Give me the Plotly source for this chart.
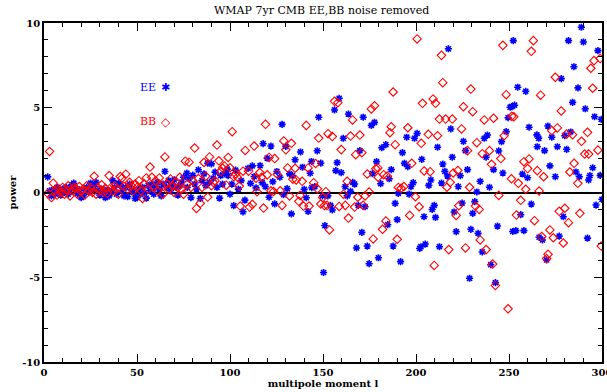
import plotly.graph_objects as go

# ---------------- data ----------------
ee_l = [2, 3, 4, 5, 6, 7, 8, 9, 10, 11, 12, 13, 14, 15, 16, 17, 18, 19, 20, 21, 22, 23, 24, 25, 26,
        27, 28, 29, 30, 31, 32, 33, 34, 35, 36, 37, 38, 39, 40, 41, 42, 43, 44, 45, 46, 47, 48, 49, 50,
        51, 52, 53, 54, 55, 56, 57, 58, 59, 60, 61, 62, 63, 64, 65, 66, 67, 68, 69, 70, 71, 72, 73, 74,
        75, 76.8, 77, 78, 79, 80, 81, 82, 83, 84, 85, 86, 87, 88, 89, 90, 91, 92, 93, 94.4, 95, 96, 97,
        98.5, 99, 100, 101, 102, 103, 104.5, 106, 107, 108, 109.7, 111, 112, 113, 114, 116.2, 117.3,
        117.8, 119, 120, 121, 122, 123, 124, 125.2, 126.8, 128, 128.8, 130, 130.7, 132, 133, 133.5,
        135, 137.9, 139, 139.9, 141, 142, 143.1, 143.8, 144, 145.6, 146.9, 147.7, 148.8, 149.7, 150.3,
        151, 152.6, 154, 155, 156.2, 156.9, 157.6, 158.7, 159.8, 160.9, 161.9, 163, 163.7, 164.8, 166,
        167, 168, 169, 169.8, 170.9, 171.6, 172.6, 173.8, 174.8, 176, 176.6, 177.7, 178.8, 179.8, 181,
        181.6, 183.8, 184.8, 185.6, 186.7, 187.7, 188.8, 189.9, 190.5, 191.7, 192.7, 193.8, 195, 195.6,
        196.3, 197.3, 198.5, 199.2, 200.6, 202, 202.6, 203.1, 204.3, 205, 206.9, 208, 208.7, 209.8,
        210.5, 211.6, 212.6, 213.7, 214.4, 215.5, 216.9, 217.4, 218.7, 219.5, 220.5, 221.6, 222.7,
        223.8, 224.8, 225.5, 226.6, 227.7, 228.8, 229.5, 230.5, 231.6, 232.7, 233.4, 234.5, 235.6,
        236.7, 237.7, 238.4, 239.5, 240.2, 241.7, 242.7, 243.8, 244.5, 246, 246.7, 248.5, 249.5, 250.6,
        251.5, 252, 252.3, 253, 253.7, 254.7, 256.3, 257.2, 258, 259, 260, 260.8, 262, 265, 265.2, 266,
        266.2, 268, 269.1, 270.2, 270.9, 272, 273, 274.9, 276, 277, 278.1, 279.2, 280, 281, 282, 283.2,
        284.2, 284.9, 286, 287.1, 287.8, 288.9, 290, 291, 292.2, 292.8, 293.5, 295, 296, 296.8, 297.8,
        299, 299.6, 300]
ee_p = [0.92, 0.1, -0.2, 0.15, -0.1, 0.3, 0.05, -0.15, 0.2, 0.0, 0.3, -0.1, 0.1, 0.45, 0.55, 0.2,
        -0.05, 0.15, -0.3, -0.2, 0.1, 0.3, 0.0, 0.55, 0.2, 0.35, 0.6, 0.1, -0.15, 0.2, 0.0, -0.3, 0.15,
        -0.2, 0.05, 0.7, 0.3, -0.1, 0.55, 0.45, 0.1, -0.2, 0.3, -0.25, 0.5, 0.15, 0.0, -0.35, -0.3,
        0.2, -0.1, 0.3, 0.0, -0.33, 0.4, 0.1, 0.5, -0.1, 0.3, 0.6, 0.2, -0.2, 0.5, 1.24, 0.3, 0.7, 0.1,
        0.5, 0.74, 0.3, -0.15, 0.4, 0.6, 0.9, 1.14, 0.3, 0.8, -0.3, 1.02, 0.5, 0.2, 1.34, -0.35, 0.7,
        1.1, 0.4, 1.73, 0.6, 1.69, 0.84, 1.2, 0.3, -0.33, 1.0, 0.5, 1.1, 1.38, 1.0, -0.1, 0.5, -0.77,
        1.32, 0.2, 0.7, -1.14, -0.45, 1.42, 0.54, 1.57, 0.94, 0.27, 1.59, 0.58, 2.88, 0.35, 2.03, -0.28,
        2.74, 0.64, -0.67, 1.24, 0.9, 4.02, -0.13, 2.72, 0.23, 1.1, -1.26, 1.0, 1.93, 2.39, 1.49, 0.19,
        -0.31, -1.12, 1.14, 1.83, 0.29, 0.35, 2.46, 4.44, 1.73, -0.2, -4.72, -1.95, -0.2, -0.76, -1.03,
        4.87, 1.29, 1.76, 5.56, 1.17, 3.2, 0.35, -0.2, 4.63, 0.07, 0.6, 0.5, -3.27, -0.76, 2.47, -2.35,
        4.44, -0.84, -3.16, -4.2, 3.96, 1.11, 4.14, 1.82, -3.85, 0.52, 2.64, 2.82, -1.9, 0.81, 1.35,
        -3.16, -0.64, -1.6, -0.05, -4.08, 2.35, 1.72, 3.26, 1.52, -0.1, 0.35, 0.58, 3.2, 3.49, -3.3,
        -3.2, 1.96, -1.43, -3.04, 0.42, 0.74, -1.0, -0.76, -1.47, 2.67, -3.2, 0.56, 1.68, 1.25, 0.97,
        8.48, 3.75, 2.08, -1.15, -2.31, 0.35, 0.99, -0.62, 3.02, 2.47, 1.35, -5.06, -2.17, -1.23, -0.54,
        0.03, -2.41, 0.66, -3.51, 3.2, 2.08, 3.39, 0.31, -4.26, 1.35, -5.32, -1.98, 2.45, 3.0, 1.15,
        3.59, 4.41, 5.03, 5.07, -2.3, 8.96, 5.15, -2.25, 6.21, -1.31, 1.09, -2.25, 5.97, 0.87, 3.85,
        -0.68, 3.4, 2.7, 3.2, -2.64, -2.8, 2.47, -3.98, 3.92, 1.57, 3.26, 0.93, 2.7, -2.57, 6.72, -1.43,
        3.35, 2.55, 8.96, 3.57, 5.32, 7.42, 1.21, 6.17, 0.93, 9.75, 8.88, 4.94, -2.69, 0.74, 1.0, 1.46,
        4.47, -0.74, 8.37, 1.01, 4.32, -0.4]

bb_l = [2, 3, 4, 5, 6, 7, 8, 9, 10, 11, 12, 13, 14, 15, 16, 17, 18, 19, 20, 21, 22, 23, 24, 25, 26,
        27, 28, 29, 30, 31, 32, 33, 34, 35, 36, 37, 38, 39, 40, 41, 42, 43, 44, 45, 46, 47, 48, 49, 50,
        51, 52, 53, 54, 55, 56, 57, 58, 59, 60, 61, 62, 63, 64, 65, 66, 67, 68, 69, 70, 71, 72, 73, 74,
        75, 76, 77, 78, 79, 80, 81, 82, 83, 84, 85, 86, 87, 88, 89, 90, 91, 92, 93, 94, 95, 96, 97, 98,
        99, 100, 101.2, 102, 103, 104, 105, 105.5, 107, 108.2, 110, 110.5, 112, 113, 114, 114.5, 116,
        117, 118, 119.1, 120, 121, 122, 123.4, 124, 125.4, 127, 128, 128.9, 130, 131, 132, 133, 133.8,
        135, 135.6, 137, 137.7, 138.8, 139.5, 141, 142, 142.5, 145, 146, 147, 147.7, 148.8, 149.8,
        150.8, 151.5, 152.2, 152.7, 153.5, 155, 156.2, 158, 158.7, 159.8, 161, 162, 163, 163.7, 164.8,
        165.9, 167, 167.6, 168.7, 169.8, 170.9, 171.6, 172.6, 173.8, 174.8, 176, 177, 177.7, 178.4,
        179.5, 179.6, 182, 182.6, 183.8, 184.5, 186, 186.7, 187.7, 188.8, 189.9, 190.5, 192, 193.5,
        195.6, 196.6, 197.7, 199.7, 200.6, 201.7, 202.8, 203.5, 204.4, 206.6, 207.6, 209.2, 209.8,
        210.5, 211.6, 212.6, 213.7, 214.4, 215.9, 216.6, 217.6, 218.4, 219.5, 220, 221.6, 222.5, 223,
        224.5, 225.5, 226.6, 227.7, 228.8, 229.5, 230.5, 232, 232.7, 234, 234.5, 235.6, 236.7, 237.7,
        239.5, 240.6, 241.2, 241.7, 242.7, 244.5, 245.6, 246.7, 247.4, 248.5, 249.5, 251.3, 251.5,
        252.6, 254, 255, 256.3, 258, 259, 260, 260.8, 262, 263.1, 263.7, 265.2, 266.2, 267, 267.6,
        268.6, 270.2, 271, 272, 273, 273.8, 274.9, 276, 277, 278.1, 279.2, 280, 281, 282, 282.7, 284.2,
        285, 287, 288.1, 289, 290.7, 292.2, 292.8, 294, 295, 295.7, 297.8, 299, 299.6]
bb_p = [-0.05, 2.42, -0.3, 0.55, 0.1, -0.15, 0.2, 0.0, 0.3, -0.1, 0.15, 0.4, -0.2, 0.1, 0.3, 0.25,
        -0.1, 0.35, 0.05, 0.2, -0.15, 0.4, 0.1, 0.3, 0.0, 0.96, -0.1, 0.3, 0.15, 0.45, 0.0, 0.25, -0.05,
        1.0, 0.3, 0.1, 0.4, 0.2, -0.1, 0.94, 0.86, 0.35, 1.08, 0.2, 0.6, 0.4, 0.1, 0.5, 0.3,
        0.7, 0.1, -0.35, 0.5, 0.86, 0.2, 1.5, 0.9, 0.3, 0.7, 0.1, 0.86, 0.4, -0.1, 2.1, 0.5, 0.2, 0.8,
        0.4, 0.0, 0.6, 0.3, 0.9, 0.2, -0.1, 1.85, 0.5, 1.79, 0.3, 0.7, 2.62, -0.94, 0.82, -0.64, 0.3,
        1.77, 0.96, -0.27, 2.1, 0.4, 0.6, 0.68, 2.8, 1.87, 1.22, 1.44, 1.57, 0.43, 2.07, 1.46,
        3.59, 0.94, 1.1, 0.9, 0.38, -0.8, 1.26, 2.48, 1.26, -0.86, -0.7, 2.74, 0.84, 0.04, 1.18, 0.9,
        -0.92, 4.02, 1.04, 2.07, 0.1, 0.06, 2.0, 1.08, 0.1, -0.76, 3.04, 2.52, 1.45, -0.2, 2.9, 0.78,
        1.43, 0.74, -0.52, -0.17, 0.66, -0.8, 3.96, 1.45, -0.8, 0.58, 1.71, 0.22, 3.21, -0.68, -0.3,
        -0.77, 0.05, -0.76, 3.47, -2.21, 3.3, 5.38, 5.3, -0.82, 2.53, -0.1, -0.76, 0.66, -1.51, 3.33,
        4.28, -0.86, 2.23, -0.28, 3.39, 2.35, -0.76, -0.2, 1.09, 0.03, 4.93, -2.74, 5.12, 1.4, 1.45,
        0.9, -2.17, 1.05, -1.68, 0.97, 3.53, 3.88, 5.93, 2.82, -2.76, 0.3, 0.25, 0.35, 3.82, -1.35,
        1.72, -0.25, 9.06, -0.84, 2.9, 5.26, 1.27, 3.43, 1.23, 5.52, -4.3, 5.26, 3.35, 4.33, 8.09, 6.48,
        4.33, 0.31, -3.37, 0.6, 4.33, 1.15, -1.35, 1.3, -0.78, 3.75, 5.06, -3.27, 2.47, 0.31, 6.1, 4.77,
        -0.8, 2.94, -1.0, -2.8, 2.29, 4.28, -3.37, 2.47, 1.66, -4.22, 4.38, -5.48, -0.17, 2.0, 8.68,
        3.35, 5.77, -6.86, 0.81, 4.5, 4.47, -1.33, 0.54, -0.46, 1.82, 0.19, 1.41, 1.98, 8.33, 8.96,
        -1.66, 1.29, 0.09, 5.74, -2.6, 0.93, -3.9, -3.65, -2.21, 3.65, -2.67, 6.8, 3.81, -1.11, 4.81,
        -2.98, -0.93, 3.45, -1.78, 1.21, 3.41, 1.72, 0.54, -1.23, 3.02, 2.27, 3.55, 2.27, 7.33, 6.15,
        7.78, 2.5, 7.9, -3.16]

y_ticks = [-10, -5, 0, 5, 10]
y_ticktext = ["-10", "-5", "0", "5", "10"]
x_ticks = [0, 50, 100, 150, 200, 250, 300]

BLUE = "#0000ff"
RED = "#ff0000"
FONT = "DejaVu Serif"

fig = go.Figure()
fig.add_trace(go.Scatter(
    x=ee_l, y=ee_p, mode="markers", name="EE",
    marker=dict(symbol="asterisk-open", size=6, color=BLUE, line=dict(color=BLUE, width=1.6)),
))
fig.add_trace(go.Scatter(
    x=bb_l, y=bb_p, mode="markers", name="BB",
    marker=dict(symbol="diamond-open", size=6.5, color=RED, line=dict(color=RED, width=1.1)),
))

axis_common = dict(
    showline=True, linecolor="black", linewidth=1.5, mirror="ticks",
    ticks="inside", tickcolor="black", showgrid=False, automargin=False,
    tickfont=dict(family=FONT, size=10, color="black", weight="bold"),
)

fig.update_layout(
    width=607, height=392,
    margin=dict(l=44, r=5, t=23, b=30),
    paper_bgcolor="white", plot_bgcolor="white",
    showlegend=False,
    title=dict(text="WMAP 7yr CMB EE,BB noise removed", x=0.53, xanchor="center",
               y=0.985, yanchor="top",
               font=dict(family=FONT, size=11, color="black")),
    xaxis=dict(range=[0, 300], tickvals=x_ticks, ticklen=8, tickwidth=1,
               ticklabeloverflow="allow",
               minor=dict(dtick=10, ticks="inside", ticklen=4, tickcolor="black"),
               zeroline=False,
               title=dict(text="multipole moment l",
                          font=dict(family=FONT, size=10, color="black", weight="bold"),
                          standoff=2),
               **axis_common),
    yaxis=dict(range=[-10, 10], tickvals=y_ticks, ticktext=y_ticktext, ticklen=8, tickwidth=1,
               minor=dict(dtick=1, ticks="inside", ticklen=4, tickcolor="black"),
               zeroline=True, zerolinecolor="black", zerolinewidth=1.5,
               title=dict(text="power",
                          font=dict(family=FONT, size=10, color="black", weight="bold"),
                          standoff=4),
               **axis_common),
)

# legend drawn as text (label left, symbol right, like the reference)
fig.add_annotation(xref="paper", yref="paper", x=0.168, y=0.835, text="EE", showarrow=False,
                   font=dict(family=FONT, size=11, color=BLUE))
fig.add_annotation(xref="paper", yref="paper", x=0.206, y=0.835, text="✱", showarrow=False,
                   font=dict(family="DejaVu Sans", size=11, color=BLUE))
fig.add_annotation(xref="paper", yref="paper", x=0.168, y=0.735, text="BB", showarrow=False,
                   font=dict(family=FONT, size=11, color=RED))
fig.add_annotation(xref="paper", yref="paper", x=0.206, y=0.735, text="◇", showarrow=False,
                   font=dict(family="DejaVu Sans", size=12, color=RED))

fig.write_html("out.html")
